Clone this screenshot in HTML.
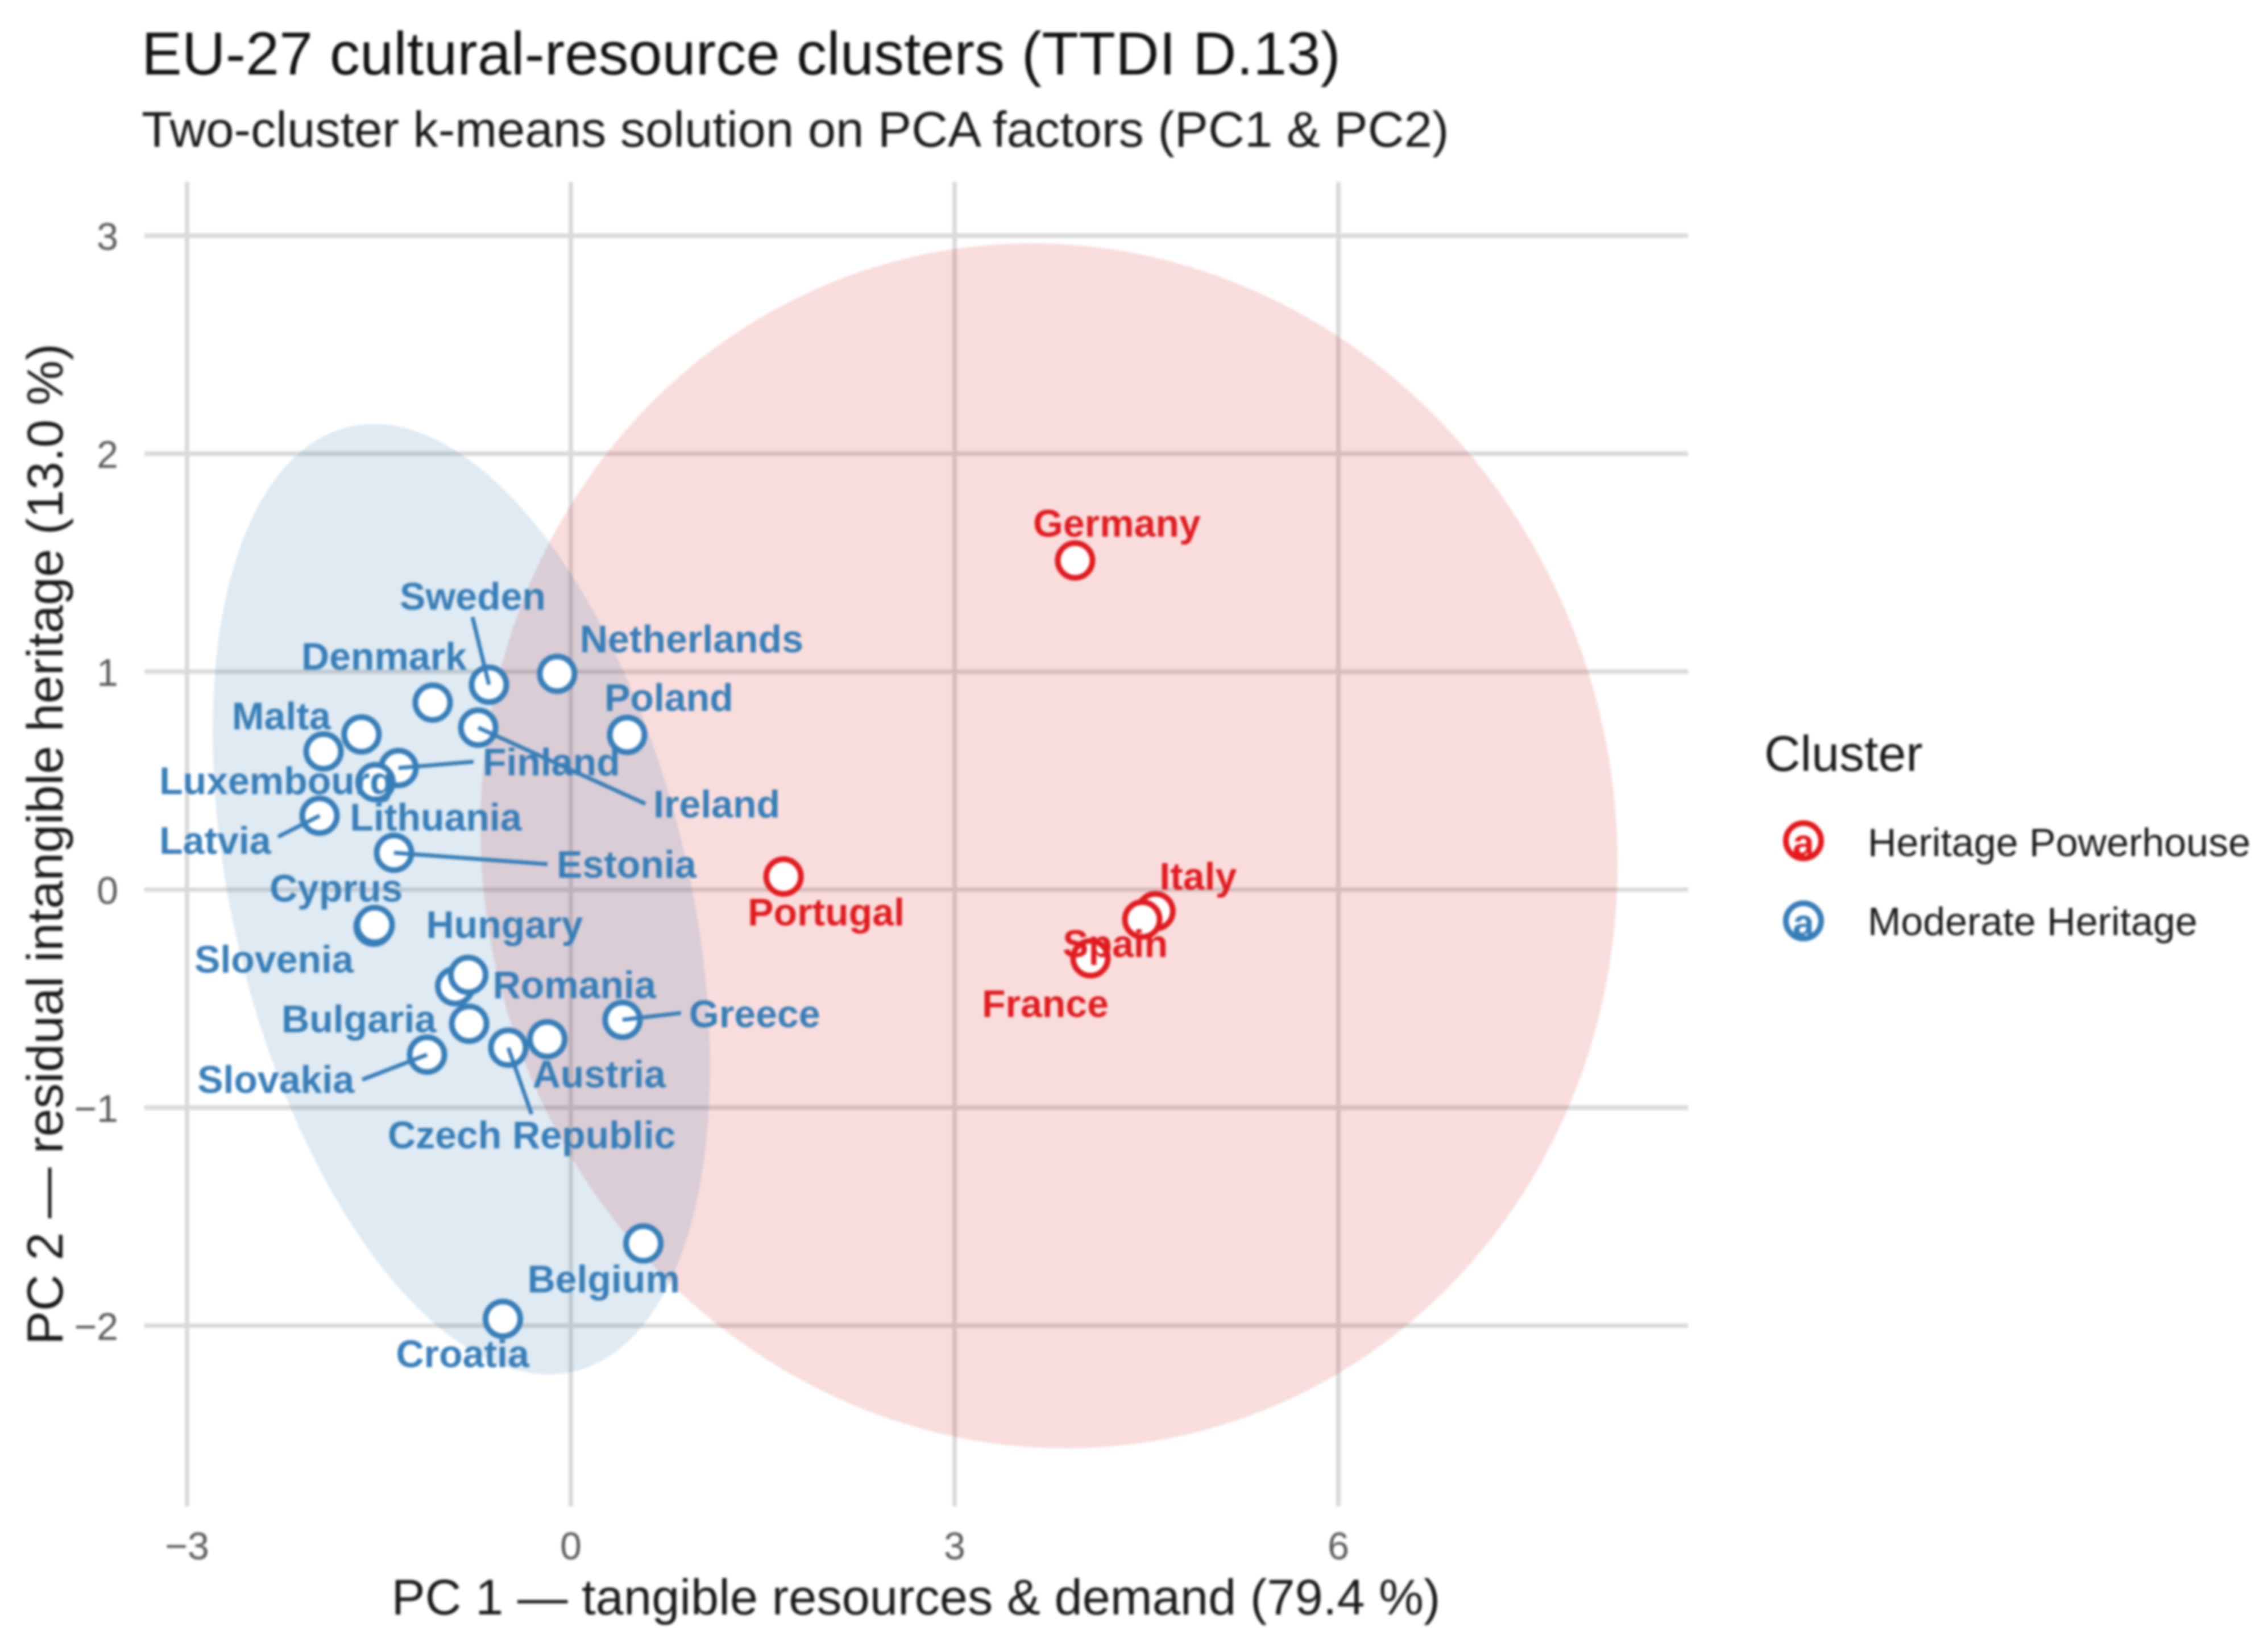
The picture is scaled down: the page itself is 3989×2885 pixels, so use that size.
<!DOCTYPE html>
<html lang="en">
<head>
<meta charset="utf-8">
<title>EU-27 cultural-resource clusters (TTDI D.13)</title>
<style>
  html, body { margin: 0; padding: 0; background: #fff; }
  body { width: 3989px; height: 2885px; overflow: hidden; }
  svg { display: block; filter: blur(2px); font-family: "Liberation Sans", Arial, sans-serif; }
  .point-label { font-size: 68px; font-weight: 700; }
</style>
</head>
<body>
<svg id="chart" xmlns="http://www.w3.org/2000/svg" width="3989" height="2885" viewBox="0 0 3989 2885">
  <rect x="-10" y="-10" width="4009" height="2905" fill="#ffffff"/>
  <text x="249" y="131" font-size="106.3" fill="#111111">EU-27 cultural-resource clusters (TTDI D.13)</text>
  <text x="249" y="258" font-size="88.6" fill="#1a1a1a">Two-cluster k-means solution on PCA factors (PC1 &amp; PC2)</text>
  <g id="grid"></g>
  <g id="ellipses"></g>
  <g id="markers"></g>
  <g id="segments"></g>
  <g id="labels"></g>
  <g id="ticks"></g>
  <text x="1611" y="2840" font-size="88.5" text-anchor="middle" fill="#1a1a1a">PC 1 — tangible resources &amp; demand (79.4 %)</text>
  <text transform="translate(110 1485) rotate(-90)" font-size="89" text-anchor="middle" fill="#1a1a1a">PC 2 — residual intangible heritage (13.0 %)</text>
  <g>
    <text x="3103" y="1356" font-size="88" fill="#1a1a1a">Cluster</text>
    <g>
      <circle cx="3172" cy="1479" r="31" fill="#ffffff" stroke="#E41A1C" stroke-width="10"/>
      <text x="3172" y="1506" font-size="68" font-weight="700" text-anchor="middle" fill="#E41A1C">a</text>
      <text x="3285" y="1506" font-size="70" fill="#1a1a1a">Heritage Powerhouse</text>
    </g>
    <g>
      <circle cx="3172" cy="1620" r="31" fill="#ffffff" stroke="#377EB8" stroke-width="10"/>
      <text x="3172" y="1647" font-size="68" font-weight="700" text-anchor="middle" fill="#377EB8">a</text>
      <text x="3285" y="1645" font-size="70" fill="#1a1a1a">Moderate Heritage</text>
    </g>
  </g>
</svg>
<script>
// ---- chart data ----
const xTickValues = [-3, 0, 3, 6];
const xTickLabels = ["\u22123", "0", "3", "6"];
const yTickValues = [-2, -1, 0, 1, 2, 3];
const yTickLabels = ["\u22122", "\u22121", "0", "1", "2", "3"];

const clusterNames = ["Heritage Powerhouse", "Moderate Heritage"];

const countries = ["Germany", "Portugal", "Italy", "Spain", "France",
  "Sweden", "Netherlands", "Denmark", "Ireland", "Poland", "Malta", "Luxembourg",
  "Finland", "Lithuania", "Latvia", "Estonia", "Slovenia", "Cyprus", "Romania",
  "Hungary", "Bulgaria", "Greece", "Slovakia", "Austria", "Czech Republic", "Belgium", "Croatia"];
const pc1Values = [3.942, 1.663, 4.57, 4.467, 4.062,
  -0.64, -0.107, -1.08, -0.724, 0.44, -1.636, -1.933,
  -1.347, -1.527, -1.964, -1.382, -1.542, -1.533, -0.904,
  -0.802, -0.795, 0.404, -1.124, -0.184, -0.489, 0.567, -0.531];
const pc2Values = [1.51, 0.06, -0.099, -0.137, -0.315,
  0.94, 0.99, 0.858, 0.743, 0.71, 0.712, 0.634,
  0.558, 0.493, 0.339, 0.169, -0.17, -0.162, -0.443,
  -0.391, -0.615, -0.597, -0.757, -0.686, -0.725, -1.623, -1.969];
const clusterIndex = [0, 0, 0, 0, 0,
  1, 1, 1, 1, 1, 1, 1, 1, 1, 1, 1, 1, 1, 1, 1, 1, 1, 1, 1, 1, 1, 1];

// Ellipse summaries per cluster, in data units
const ellipseCentreX = [3.738, -0.856];
const ellipseCentreY = [0.201, -0.044];
const ellipseHalfX = [4.445, 1.944];
const ellipseHalfY = [2.764, 2.18];
const ellipseCorrelation = [-0.03, -0.352];

// ---- scales and layout ----
const X0 = 1004, XUNIT = 225, Y0 = 1565, YUNIT = 383.5;
const PANEL = { left: 254, right: 2969, top: 320, bottom: 2650 };
const COLORS = ["#E01C20", "#377EB8"];
const ELLIPSE_COLORS = ["#DA1E1E", "#2A6FB0"];
function xScale(v) { return X0 + XUNIT * v; }
function yScale(v) { return Y0 - YUNIT * v; }

// Hand-placed label offsets from each point (pixels): [label dx, baseline dy, connector dx, connector dy]
const labelLayout = {
  "Germany": [-74, -42], "Portugal": [-63, 86], "Italy": [7, -38], "Spain": [-140, 66], "France": [-191, 103],
  "Sweden": [-157, -132, -29, -119], "Netherlands": [40, -38], "Denmark": [-231, -58],
  "Ireland": [308, 158, 294, 134], "Poland": [-40, -42], "Malta": [-228, -9], "Luxembourg": [-289, 75],
  "Finland": [148, 13, 132, -11], "Lithuania": [-45, 85], "Latvia": [-282, 67, -73, 37],
  "Estonia": [286, 44, 270, 20], "Slovenia": [-315, 81], "Cyprus": [-185, -41], "Romania": [66, 21],
  "Hungary": [-74, -65], "Bulgaria": [-330, 15], "Greece": [117, 13, 103, -12],
  "Slovakia": [-404, 67, -114, 44], "Austria": [-26, 85], "Czech Republic": [-212, 177, 41, 117],
  "Belgium": [-204, 86], "Croatia": [-188, 85]
};

const SVGNS = "http://www.w3.org/2000/svg";
function make(tag, parentId, attrs, text) {
  const el = document.createElementNS(SVGNS, tag);
  Object.keys(attrs).forEach(function (k) { el.setAttribute(k, attrs[k]); });
  if (text !== undefined) el.textContent = text;
  document.getElementById(parentId).appendChild(el);
  return el;
}
function slug(s) { return s.toLowerCase().replace(/\s+/g, "-"); }

// Gridlines and tick labels
xTickValues.forEach(function (v, i) {
  const line = make("line", "grid", { x1: xScale(v), x2: xScale(v), y1: PANEL.top, y2: PANEL.bottom, stroke: "#DADADA", "stroke-width": 8 });
  
  
  const tick = make("text", "ticks", { x: xScale(v), y: 2743, "font-size": 68, "text-anchor": "middle", fill: "#5a5a5a" }, xTickLabels[i]);
  
  
});
yTickValues.forEach(function (v, i) {
  const line = make("line", "grid", { x1: PANEL.left, x2: PANEL.right, y1: yScale(v), y2: yScale(v), stroke: "#DADADA", "stroke-width": 8 });
  
  
  const tick = make("text", "ticks", { x: 208, y: yScale(v) + 25, "font-size": 68, "text-anchor": "end", fill: "#5a5a5a" }, yTickLabels[i]);
  
  
});

// Ellipses
clusterNames.forEach(function (name, c) {
  const steps = 180;
  const r = ellipseCorrelation[c];
  let d = "";
  for (let k = 0; k < steps; k++) {
    const t = 2 * Math.PI * k / steps;
    const dx = ellipseCentreX[c] + ellipseHalfX[c] * Math.cos(t);
    const dy = ellipseCentreY[c] + ellipseHalfY[c] * (r * Math.cos(t) + Math.sqrt(1 - r * r) * Math.sin(t));
    d += (k ? "L" : "M") + xScale(dx).toFixed(1) + " " + yScale(dy).toFixed(1);
  }
  const el = make("path", "ellipses", { d: d + "Z", fill: ELLIPSE_COLORS[c], "fill-opacity": 0.15 });
  
  
});

// Points, connectors, labels
countries.forEach(function (name, i) {
  const px = xScale(pc1Values[i]);
  const py = yScale(pc2Values[i]);
  const color = COLORS[clusterIndex[i]];
  const layout = labelLayout[name];

  const dot = make("circle", "markers", { cx: px, cy: py, r: 30.5, fill: "#ffffff", stroke: color, "stroke-width": 10 });
  
  

  if (layout.length === 4) {
    const seg = make("line", "segments", { x1: px, y1: py, x2: px + layout[2], y2: py + layout[3], stroke: color, "stroke-width": 7 });
    
    
  }

  const label = make("text", "labels", { x: px + layout[0], y: py + layout[1], fill: color, "class": "point-label" }, name);
  
  
});
</script>
</body>
</html>
